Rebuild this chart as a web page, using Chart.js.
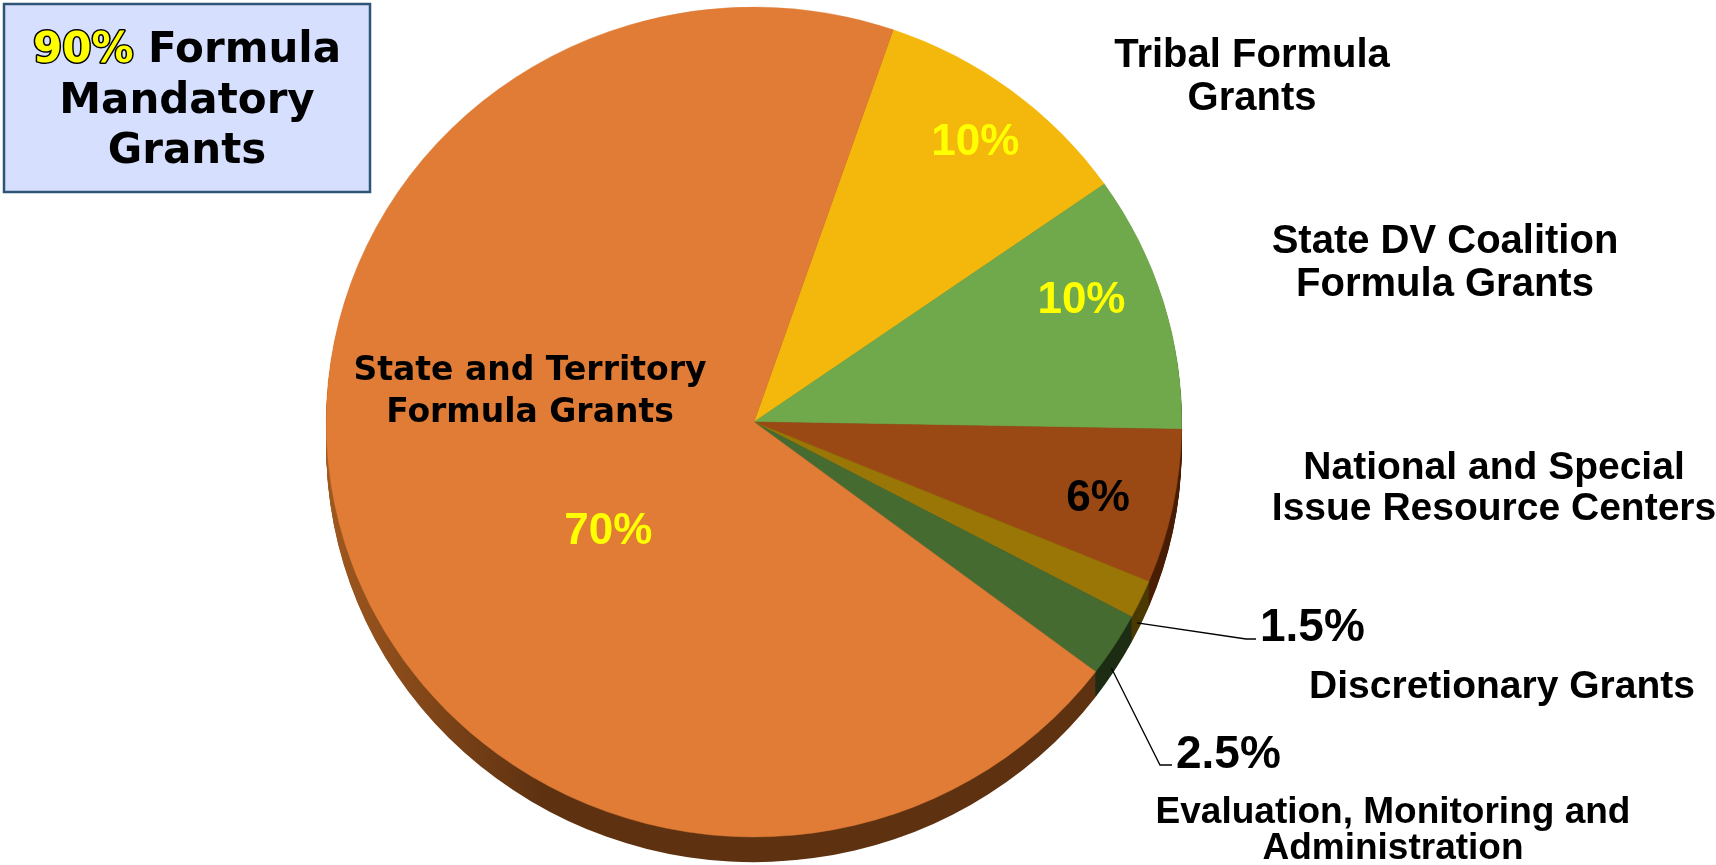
<!DOCTYPE html>
<html>
<head>
<meta charset="utf-8">
<script src="https://cdn.jsdelivr.net/npm/chart.js@4.4.1/dist/chart.umd.min.js"></script>
<style>
  html, body { margin: 0; padding: 0; background: #fff; }
  #wrap { position: relative; width: 1716px; height: 865px; }
</style>
</head>
<body>
<div id="wrap"><canvas id="pie"></canvas></div>
<script>
// data, clockwise from the Tribal slice
const categories = [
  "Tribal Formula Grants",
  "State DV Coalition Formula Grants",
  "National and Special Issue Resource Centers",
  "Discretionary Grants",
  "Evaluation, Monitoring and Administration",
  "State and Territory Formula Grants"
];
const shares = [10, 10, 6, 1.5, 2.5, 70];
const shareLabels = ["10%", "10%", "6%", "1.5%", "2.5%", "70%"];
const categoryLines = [
  ["Tribal Formula", "Grants"],
  ["State DV Coalition", "Formula Grants"],
  ["National and Special", "Issue Resource Centers"],
  ["Discretionary Grants"],
  ["Evaluation, Monitoring and", "Administration"],
  ["State and Territory", "Formula Grants"]
];
const boxLines = ["90%", "Formula", "Mandatory", "Grants"];

const sliceColors = ["#f4b80c", "#70a84c", "#9b4914", "#9a7607", "#466b31", "#e07c36"];
const sideColors = ["#6e5205", "#33491f", "#4a1f06", "#4b3a03", "#1d2d13", "#5e3211"];

// fake 3d look
const TILT = 0.97, LIFT = 6, DEPTH = 26;

const ARIAL = "'Liberation Sans', Arial, sans-serif";
const WIDE = "'DejaVu Sans', Verdana, sans-serif";

// percent labels that sit inside their slice (radius fraction, angle shift in deg)
const insideLabels = {
  0: { r: 0.85, shift: 0.5, color: "#ffff00" },
  1: { r: 0.82, shift: -4, color: "#ffff00" },
  2: { r: 0.825, shift: 1, color: "#000000" },
  5: { r: 0.43, shift: -20.6, color: "#ffff00" }
};

// category text placement
const outsideLabels = [
  { idx: 0, x: 1252, base: [67, 110], size: 40, font: ARIAL },
  { idx: 1, x: 1445, base: [253, 296], size: 40, font: ARIAL },
  { idx: 2, x: 1494, base: [479, 520], size: 39, font: ARIAL },
  { idx: 3, x: 1502, base: [698], size: 39, font: ARIAL },
  { idx: 4, x: 1393, base: [823, 859], size: 37, font: ARIAL },
  { idx: 5, x: 530, base: [380, 422], size: 33, font: WIDE }
];

// small slices: percent next to a leader line
const calloutLabels = [
  { idx: 3, elbow: [1246, 639], textX: 1260, base: 641, size: 46 },
  { idx: 4, elbow: [1160, 765], textX: 1176, base: 768, size: 46 }
];

function screenPoint(a, ang, rad, extraY) {
  return [
    a.x + rad * Math.cos(ang),
    a.y - LIFT + (rad * Math.sin(ang) + (extraY || 0)) * TILT
  ];
}

const tiltPlugin = {
  id: "tilt3d",
  beforeDatasetsDraw(chart) {
    const ctx = chart.ctx;
    const arcs = chart.getDatasetMeta(0).data;
    const a0 = arcs[0];
    ctx.save();
    ctx.translate(a0.x, a0.y - LIFT);
    ctx.scale(1, TILT);
    ctx.translate(-a0.x, -a0.y);

    const grad = ctx.createLinearGradient(a0.x - a0.outerRadius, 0, a0.x - a0.outerRadius * 0.5, 0);
    grad.addColorStop(0, "#a0581f");
    grad.addColorStop(1, sideColors[5]);

    for (let d = DEPTH; d >= 1; d--) {
      arcs.forEach((a, i) => {
        ctx.beginPath();
        ctx.moveTo(a.x, a.y + d);
        ctx.arc(a.x, a.y + d, a.outerRadius, a.startAngle, a.endAngle);
        ctx.closePath();
        ctx.fillStyle = i === 5 ? grad : sideColors[i];
        ctx.fill();
      });
    }
  },
  afterDatasetsDraw(chart) {
    chart.ctx.restore();
  }
};

const labelPlugin = {
  id: "labels",
  afterDraw(chart) {
    const ctx = chart.ctx;
    const arcs = chart.getDatasetMeta(0).data;
    ctx.save();

    // percents inside slices
    ctx.textAlign = "center";
    ctx.textBaseline = "middle";
    ctx.font = "bold 44px " + ARIAL;
    Object.keys(insideLabels).forEach(k => {
      const a = arcs[k];
      const p = insideLabels[k];
      const mid = (a.startAngle + a.endAngle) / 2 + p.shift * Math.PI / 180;
      const pt = screenPoint(a, mid, a.outerRadius * p.r);
      ctx.fillStyle = p.color;
      ctx.fillText(shareLabels[k], pt[0], pt[1] + 1);
    });

    // leader lines + small percents
    calloutLabels.forEach(c => {
      const a = arcs[c.idx];
      const mid = (a.startAngle + a.endAngle) / 2;
      const s = screenPoint(a, mid, a.outerRadius - 4, DEPTH);
      ctx.strokeStyle = "#000";
      ctx.lineWidth = 1.3;
      ctx.beginPath();
      ctx.moveTo(s[0], s[1]);
      ctx.lineTo(c.elbow[0], c.elbow[1]);
      ctx.lineTo(c.textX - 4, c.elbow[1]);
      ctx.stroke();
      ctx.font = "bold " + c.size + "px " + ARIAL;
      ctx.textAlign = "left";
      ctx.textBaseline = "alphabetic";
      ctx.fillStyle = "#000";
      ctx.fillText(shareLabels[c.idx], c.textX, c.base);
    });

    // category names
    ctx.textAlign = "center";
    ctx.textBaseline = "alphabetic";
    ctx.fillStyle = "#000";
    outsideLabels.forEach(l => {
      ctx.font = "bold " + l.size + "px " + l.font;
      categoryLines[l.idx].forEach((line, j) => ctx.fillText(line, l.x, l.base[j]));
    });

    // title box
    ctx.fillStyle = "#d6e0fe";
    ctx.fillRect(4, 4, 366, 188);
    ctx.strokeStyle = "#2f5477";
    ctx.lineWidth = 2.5;
    ctx.strokeRect(4, 4, 366, 188);

    ctx.font = "bold 42px " + WIDE;
    const cx = 187;
    const w1 = ctx.measureText(boxLines[0] + " ").width;
    const w2 = ctx.measureText(boxLines[1]).width;
    const x0 = cx - (w1 + w2) / 2;
    ctx.textAlign = "left";
    ctx.lineJoin = "round";
    ctx.lineWidth = 3;
    ctx.strokeStyle = "#000";
    ctx.strokeText(boxLines[0], x0, 62);
    ctx.fillStyle = "#ffff00";
    ctx.fillText(boxLines[0], x0, 62);
    ctx.fillStyle = "#000";
    ctx.fillText(boxLines[1], x0 + w1, 62);
    ctx.textAlign = "center";
    ctx.fillText(boxLines[2], cx, 113);
    ctx.fillText(boxLines[3], cx, 163);

    ctx.restore();
  }
};

new Chart(document.getElementById("pie"), {
  type: "pie",
  data: {
    labels: categories,
    datasets: [{
      data: shares,
      backgroundColor: sliceColors,
      borderColor: sliceColors,
      borderWidth: 0.5,
      clip: false
    }]
  },
  options: {
    responsive: true,
    maintainAspectRatio: false,
    animation: false,
    rotation: 19,
    layout: { padding: { left: 326, right: 534, top: 0, bottom: 9 } },
    plugins: {
      legend: { display: false },
      tooltip: { enabled: false }
    }
  },
  plugins: [tiltPlugin, labelPlugin]
});
</script>
</body>
</html>
